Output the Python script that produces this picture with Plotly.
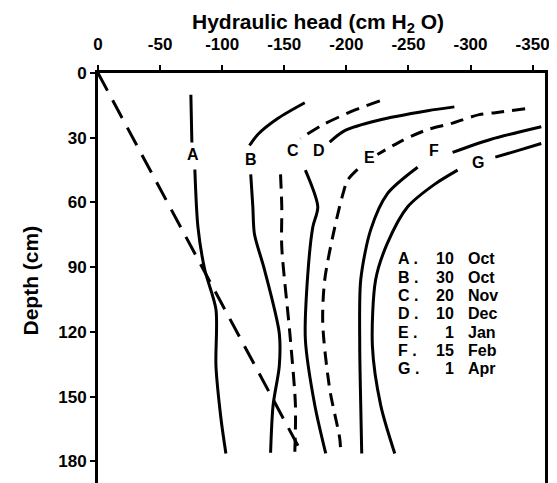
import plotly.graph_objects as go

# ---------------- data ----------------
x_ticks = [0, -50, -100, -150, -200, -250, -300, -350]
x_tick_text = ["0", "-50", "-100", "-150", "-200", "-250", "-300", "-350"]
y_ticks = [0, 30, 60, 90, 120, 150, 180]
y_tick_text = ["0", "30", "60", "90", "120", "150", "180"]

curve_names = ["A", "B", "C", "D", "E", "F", "G"]

A_head = [-74.8, -75.6, None, -78, -80.5, -86, -95, -95, -99, -103]
A_depth = [10.1, 32.2, None, 44.7, 71.4, 91.2, 109.6, 135.8, 160, 176.3]

B_head = [-166.5, -145, -128.7, -122, None, -123, -124.7, -126, -134, -146, -146, -141, -139]
B_depth = [13.8, 21, 28.5, 33.6, None, 47, 62, 74.6, 91, 120.6, 135.8, 154, 176]

C_head = [-227, -207.6, -181, -163, None, -147, -148, -148, -154.5, -159, -158.5]
C_depth = [12.9, 17, 24, 30.4, None, 47, 62, 80.6, 120.6, 154, 176]

D_head = [-287, -265.5, -225, -198.7, -186.6, None, -167, -177, -173, -169, -167, -174.6, -183.4]
D_depth = [15.7, 17.5, 22, 26.7, 32, None, 45, 62, 71.4, 93, 123.4, 154, 176.3]

E_head = [-344, -320, -307, -284, -265.5, -245, -225, None,
          -209, -201, -197, -190.7, -182.6, -181, -186.6, -194.7, -195.5]
E_depth = [16.6, 18.4, 19.3, 23.5, 26.2, 31.3, 37.8, None,
           44.7, 49.7, 56.6, 71.4, 95.8, 116, 146.4, 169.4, 176.3]

F_head = [-357, -316, -285.6, None, -257.4, -233, -219.6, -211.6, -210.8, -211.6, -212.4]
F_depth = [24.9, 30.8, 36.8, None, 43.7, 56, 72.7, 95.8, 126.6, 154, 176.3]

G_head = [-357, -338, -320, None, -289.6, -271, -249.4, -233, -223.6, -221, -227.7, -239]
G_depth = [32.7, 36, 39, None, 45, 51.6, 62, 79, 95.8, 126.6, 154, 176.3]

gravity_head = [0, -165]
gravity_depth = [0, 177]

label_head = [-76.5, -123, -157, -178, -219, -271, -306]
label_depth = [37.8, 40, 36, 36, 39, 36, 41.5]

legend_day = ["10", "30", "20", "10", "1", "15", "1"]
legend_month = ["Oct", "Oct", "Nov", "Dec", "Jan", "Feb", "Apr"]

# ---------------- figure ----------------
W, H = 557, 483
L, R, T, B = 90, 20, 65, 5
PW, PH = W - L - R, H - T - B


def pxx(px):
    return (px - L) / PW


def pyy(py):
    return 1 - (py - T) / PH


FONT = "Liberation Sans"
heads = [A_head, B_head, C_head, D_head, E_head, F_head, G_head]
depths = [A_depth, B_depth, C_depth, D_depth, E_depth, F_depth, G_depth]
dashes = ["solid", "solid", "14px,8px", "solid", "13px,8px", "solid", "solid"]

fig = go.Figure()

fig.add_trace(go.Scatter(
    x=gravity_head, y=gravity_depth, mode="lines",
    line=dict(color="black", width=3, dash="20px,11px"),
    showlegend=False, hoverinfo="skip"))

for name, h, d, ds in zip(curve_names, heads, depths, dashes):
    fig.add_trace(go.Scatter(
        x=h, y=d, mode="lines", name=name,
        line=dict(color="black", width=3, dash=ds, shape="spline", smoothing=0.8),
        showlegend=False))

annotations = []
for name, lh, ld in zip(curve_names, label_head, label_depth):
    annotations.append(dict(
        x=lh, y=ld, xref="x", yref="y", text=name, showarrow=False,
        font=dict(family=FONT, size=16, color="black", weight="bold"),
        xanchor="center", yanchor="middle"))

row0, step = 252, 18.5
for i, (name, day, mon) in enumerate(zip(curve_names, legend_day, legend_month)):
    yy = pyy(row0 + i * step)
    f = dict(family=FONT, size=16, color="black", weight="bold")
    annotations.append(dict(x=pxx(388), y=yy, xref="paper", yref="paper",
                            text=name + " .", showarrow=False, font=f,
                            xanchor="left", yanchor="middle"))
    annotations.append(dict(x=pxx(448), y=yy, xref="paper", yref="paper",
                            text=day, showarrow=False, font=f,
                            xanchor="right", yanchor="middle"))
    annotations.append(dict(x=pxx(458), y=yy, xref="paper", yref="paper",
                            text=mon, showarrow=False, font=f,
                            xanchor="left", yanchor="middle"))

annotations.append(dict(
    x=pxx(310), y=pyy(15), xref="paper", yref="paper",
    text="Hydraulic head (cm H<sub>2</sub> O)", showarrow=False,
    font=dict(family=FONT, size=21, color="black", weight="bold"),
    xanchor="center", yanchor="middle"))
annotations.append(dict(
    x=pxx(22), y=pyy(274), xref="paper", yref="paper",
    text="Depth (cm)", showarrow=False, textangle=-90,
    font=dict(family=FONT, size=21, color="black", weight="bold"),
    xanchor="center", yanchor="middle"))

fig.update_layout(
    width=W, height=H,
    margin=dict(l=L, r=R, t=T, b=B),
    paper_bgcolor="white", plot_bgcolor="white",
    annotations=annotations,
    xaxis=dict(
        side="top", range=[0, -360], tickvals=x_ticks, ticktext=x_tick_text,
        showgrid=False, zeroline=False, showline=True, mirror=True,
        linecolor="black", linewidth=3, ticks="outside", ticklen=5,
        tickwidth=2, tickcolor="black", ticklabelstandoff=8,
        tickfont=dict(family=FONT, size=17, color="black", weight="bold")),
    yaxis=dict(
        range=[190, 0], tickvals=y_ticks, ticktext=y_tick_text,
        showgrid=False, zeroline=False, showline=True, mirror=True,
        linecolor="black", linewidth=3, ticks="outside", ticklen=5,
        tickwidth=2, tickcolor="black",
        tickfont=dict(family=FONT, size=17, color="black", weight="bold")),
)

fig.write_html("out.html")
